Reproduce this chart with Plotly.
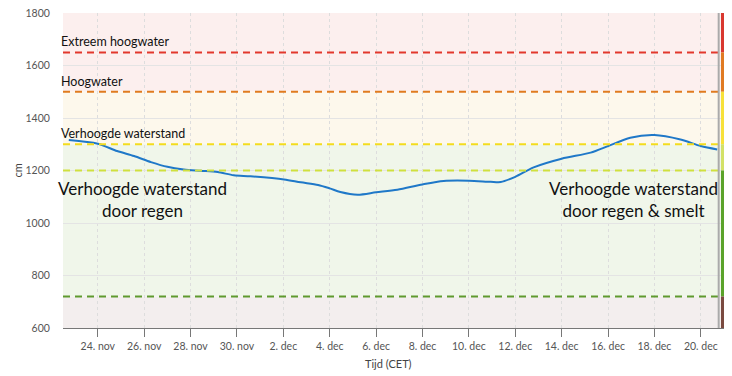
import plotly.graph_objects as go

# ---- data ----
times = [
    "2023-11-22 18:00", "2023-11-24 00:00", "2023-11-24 20:00", "2023-11-25 13:30",
    "2023-11-26 07:00", "2023-11-27 00:00", "2023-11-27 17:00", "2023-11-28 10:30",
    "2023-11-29 04:00", "2023-11-29 20:40", "2023-11-30 14:00", "2023-12-02 00:45",
    "2023-12-02 18:00", "2023-12-03 12:00", "2023-12-04 00:00", "2023-12-04 11:00",
    "2023-12-05 05:00", "2023-12-06 00:00", "2023-12-06 22:00", "2023-12-08 00:00",
    "2023-12-08 22:00", "2023-12-10 00:00", "2023-12-10 22:30", "2023-12-11 09:00",
    "2023-12-12 00:00", "2023-12-12 19:00", "2023-12-14 00:00", "2023-12-15 06:00",
    "2023-12-16 00:00", "2023-12-16 23:00", "2023-12-18 00:00", "2023-12-19 03:00",
    "2023-12-20 00:00", "2023-12-20 17:00",
]
levels = [
    1316, 1302, 1274, 1255,
    1232, 1214, 1204, 1199,
    1194, 1182, 1178, 1166,
    1155, 1145, 1132, 1118,
    1108, 1117, 1127, 1147,
    1160, 1161, 1157, 1156,
    1176, 1212, 1245, 1268,
    1293, 1325, 1335, 1318,
    1293, 1280,
]

threshold_names = ["Extreem hoogwater", "Hoogwater", "Verhoogde waterstand", "", ""]
threshold_values = [1650, 1500, 1300, 1200, 720]
threshold_colors = ["#e2382c", "#e07b1f", "#f3dc1e", "#cfe03e", "#5f9a2e"]

band_bounds = [(1500, 1800), (1300, 1500), (720, 1300), (600, 720)]
band_colors = ["#fcefee", "#fdf8ec", "#f0f6ea", "#f3eeee"]

side_bounds = [(1650, 1800), (1500, 1650), (1300, 1500), (1200, 1300), (720, 1200), (600, 720)]
side_colors = ["#d9372f", "#e07a22", "#f7e13a", "#d3e167", "#5aa32a", "#7a4a40"]

x_range = ["2023-11-22 12:00", "2023-12-21 00:00"]
now_time = "2023-12-20 18:30"

tick_vals = ["2023-11-24", "2023-11-26", "2023-11-28", "2023-11-30", "2023-12-02",
             "2023-12-04", "2023-12-06", "2023-12-08", "2023-12-10", "2023-12-12",
             "2023-12-14", "2023-12-16", "2023-12-18", "2023-12-20"]
tick_text = ["24. nov", "26. nov", "28. nov", "30. nov", "2. dec", "4. dec", "6. dec",
             "8. dec", "10. dec", "12. dec", "14. dec", "16. dec", "18. dec", "20. dec"]
y_ticks = [600, 800, 1000, 1200, 1400, 1600, 1800]

big_labels = ["Verhoogde waterstand<br>door regen", "Verhoogde waterstand<br>door regen & smelt"]

FONT = "Lato"
PLOT_W = 732 - 63 - 8

fig = go.Figure()

shapes = []
for (y0, y1), c in zip(band_bounds, band_colors):
    shapes.append(dict(type="rect", xref="paper", yref="y", x0=0, x1=1, y0=y0, y1=y1,
                       fillcolor=c, line=dict(width=0), layer="below"))

fig.add_trace(go.Scatter(x=times, y=levels, mode="lines",
                         line=dict(color="#1f78c8", width=2, shape="spline", smoothing=0.8),
                         hoverinfo="skip", showlegend=False))

for v, c in zip(threshold_values, threshold_colors):
    shapes.append(dict(type="line", xref="paper", yref="y", x0=0, x1=1 - 3.5 / PLOT_W, y0=v, y1=v,
                       line=dict(color=c, width=2, dash="7px,5px"), layer="above"))

for (y0, y1), c in zip(side_bounds, side_colors):
    shapes.append(dict(type="rect", xref="paper", yref="y", x0=1 - 3.0 / PLOT_W, x1=1.0, y0=y0, y1=y1,
                       fillcolor=c, line=dict(width=0), layer="above"))

shapes.append(dict(type="line", xref="x", yref="paper", x0=now_time, x1=now_time, y0=0, y1=1,
                   line=dict(color="#aaaaaa", width=2), layer="above"))

annotations = []
for name, v in zip(threshold_names, threshold_values):
    if name:
        annotations.append(dict(text=name, xref="paper", yref="y", x=-4 / PLOT_W, y=v,
                                xanchor="left", yanchor="bottom", showarrow=False, yshift=1,
                                font=dict(family=FONT, size=12.5, color="#111")))
annotations.append(dict(text=big_labels[0], xref="paper", yref="y", x=(142 - 63) / PLOT_W, y=1088,
                        xanchor="center", yanchor="middle", showarrow=False, align="center",
                        font=dict(family=FONT, size=17, color="#111")))
annotations.append(dict(text=big_labels[1], xref="paper", yref="y", x=(633 - 63) / PLOT_W, y=1090,
                        xanchor="center", yanchor="middle", showarrow=False, align="center",
                        font=dict(family=FONT, size=17, color="#111")))
annotations.append(dict(text="cm", xref="paper", yref="y", x=-46 / PLOT_W, y=1200,
                        xanchor="center", yanchor="middle", showarrow=False, textangle=-90,
                        font=dict(family=FONT, size=11, color="#444")))
annotations.append(dict(text="Tijd (CET)", xref="paper", yref="paper", x=(388 - 63) / PLOT_W, y=0,
                        yshift=-35, xanchor="center", yanchor="middle", showarrow=False,
                        font=dict(family=FONT, size=11, color="#444")))

fig.update_layout(
    width=732, height=376,
    margin=dict(l=63, r=8, t=13, b=48, autoexpand=False),
    paper_bgcolor="white", plot_bgcolor="rgba(0,0,0,0)",
    shapes=shapes, annotations=annotations,
    font=dict(family=FONT, size=10, color="#555"),
    xaxis=dict(type="date", range=x_range, tickvals=tick_vals, ticktext=tick_text,
               automargin=False,
               showgrid=True, gridcolor="#dddddd", griddash="dot", gridwidth=1,
               showline=True, linecolor="#777", linewidth=1,
               ticks="outside", ticklen=8, tickcolor="#777",
               tickfont=dict(family=FONT, size=10.5, color="#555"),
               zeroline=False),
    yaxis=dict(range=[600, 1800], tickvals=y_ticks, showgrid=True, gridcolor="#e4e4e4",
               automargin=False,
               gridwidth=1, zeroline=False, showline=False, ticks="outside", ticklen=10,
               tickcolor="rgba(0,0,0,0)",
               tickfont=dict(family=FONT, size=10.5, color="#555")),
)

fig.write_html("out.html", config={"displayModeBar": False},
               post_script="document.body.style.margin='0px';document.body.style.overflow='hidden';")
